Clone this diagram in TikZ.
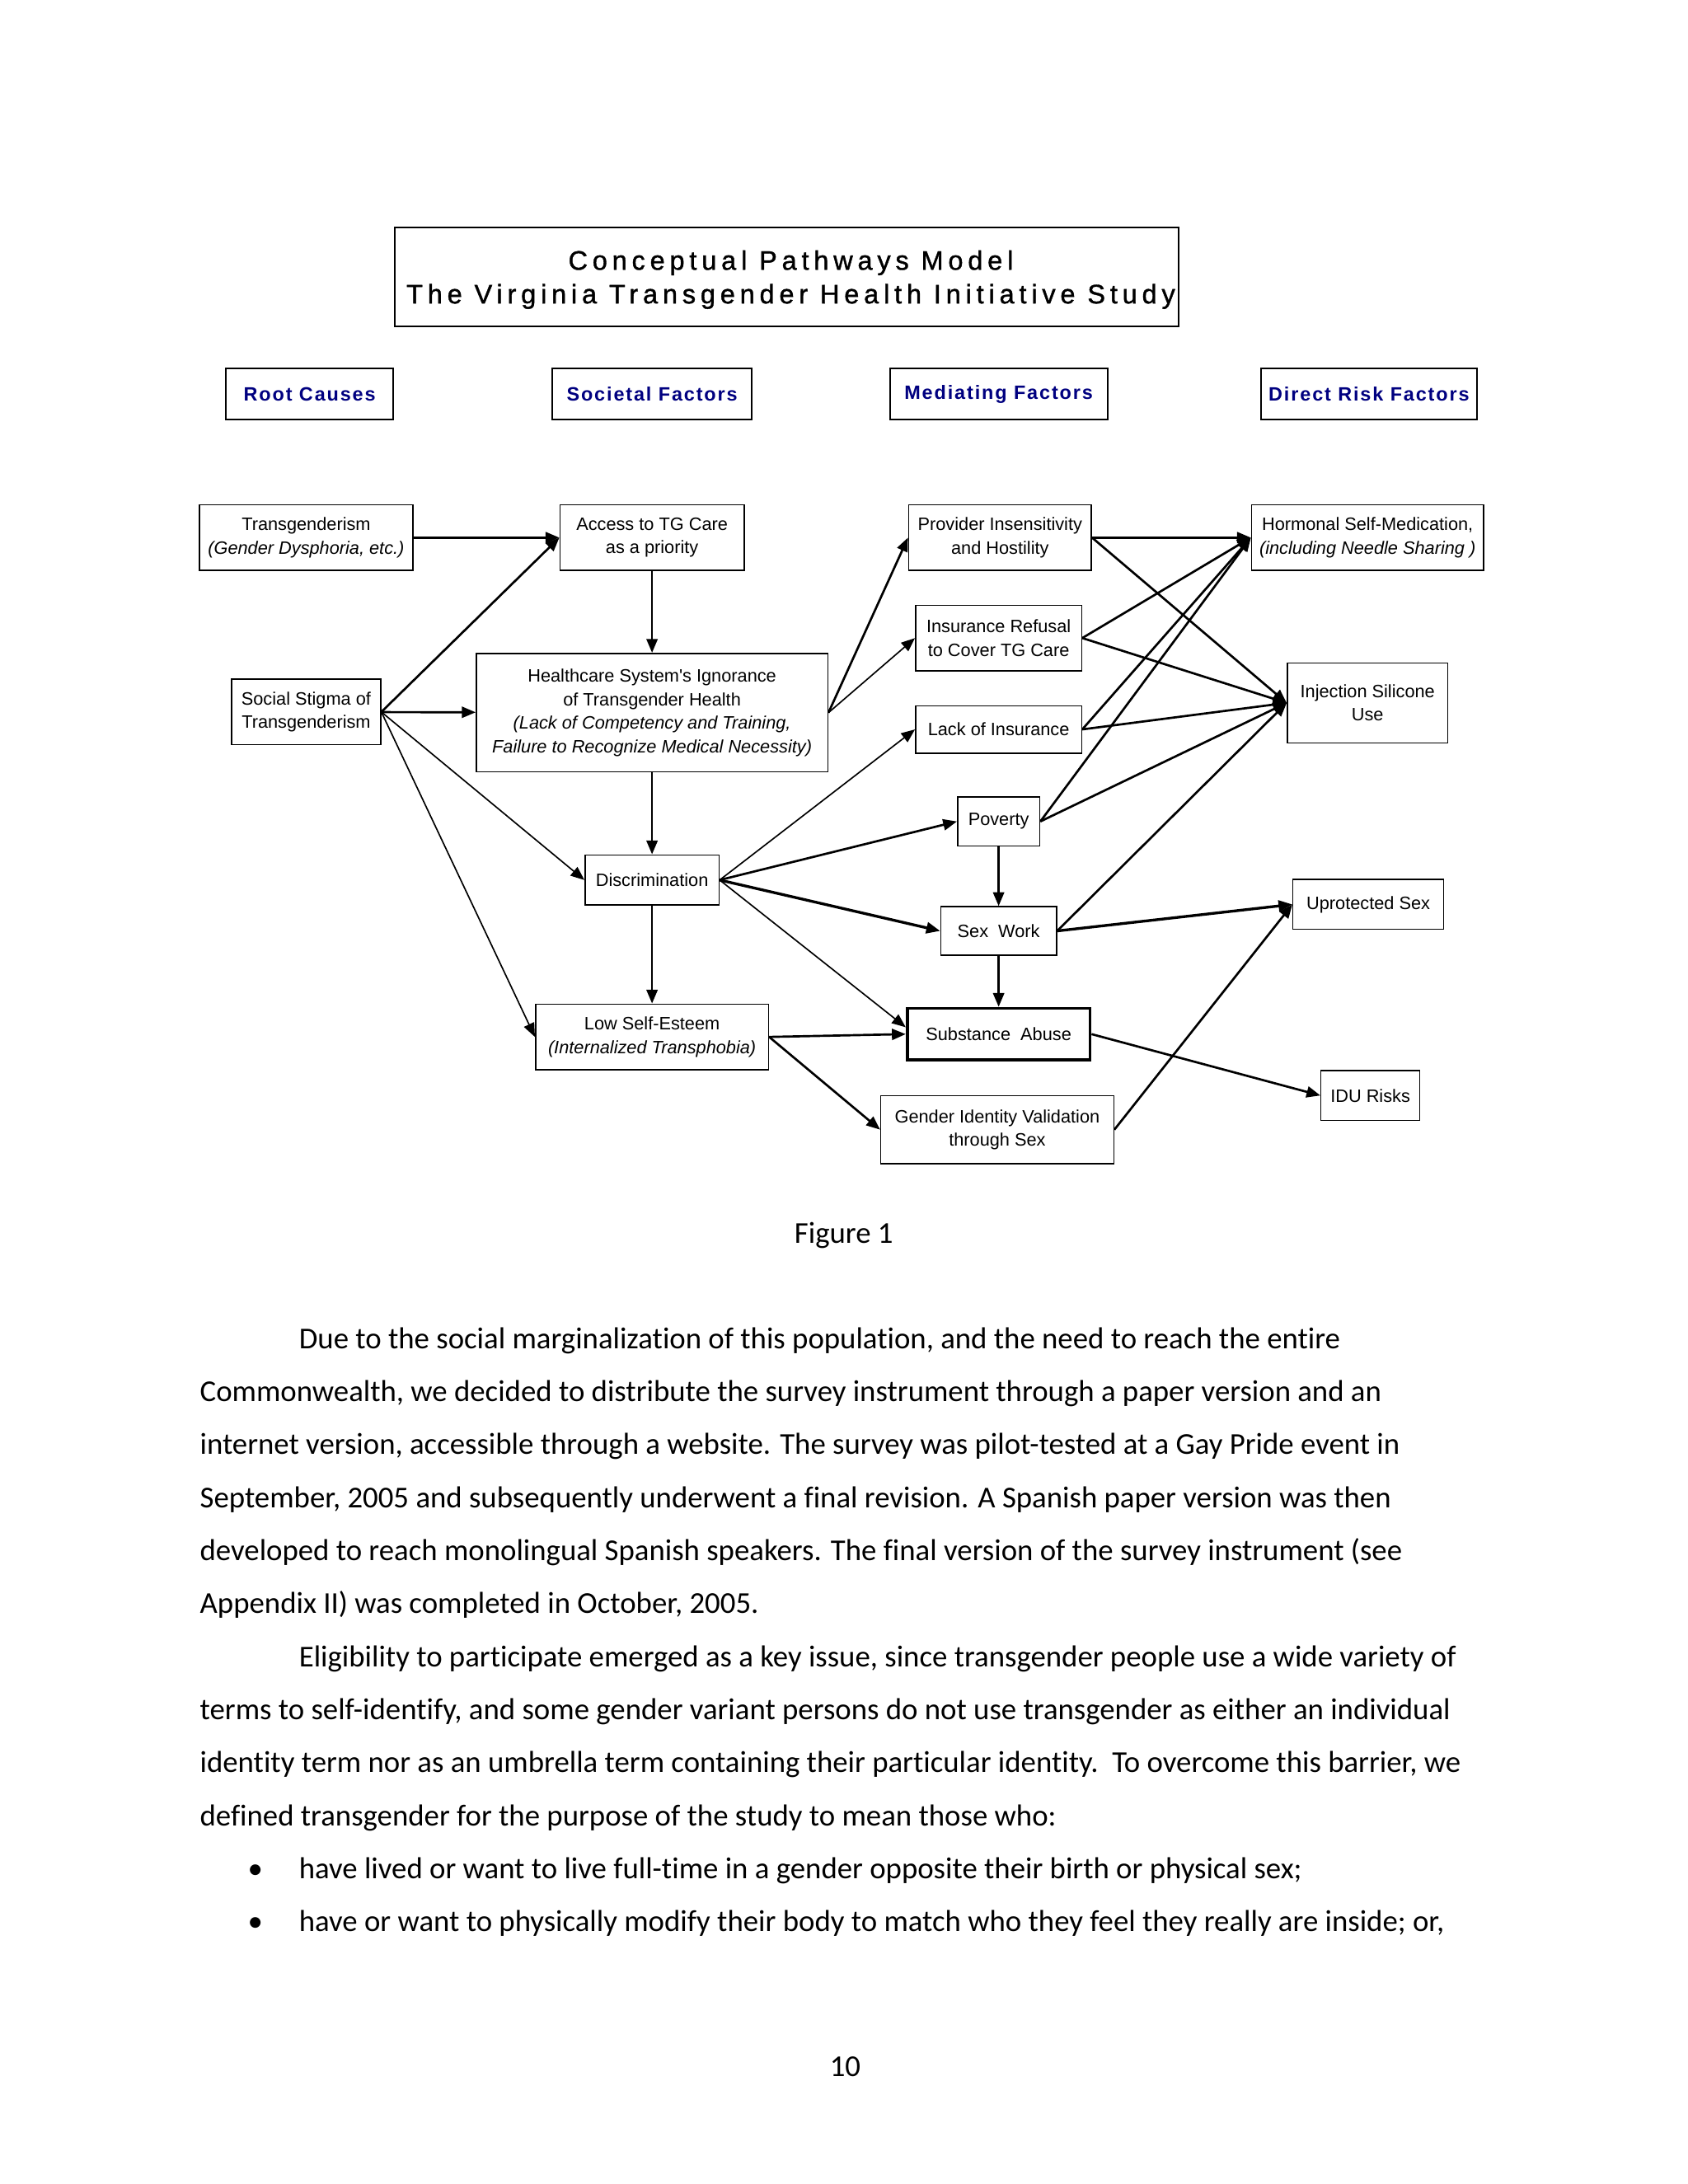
\documentclass[tikz,border=0pt]{standalone}
\usepackage{xcolor}
\usepackage{fontspec}
\setmainfont[Ligatures=NoCommon]{Carlito}
\newfontfamily\boxfont{Liberation Sans}
\newfontfamily\titlefont[LetterSpace=18, FakeBold=1.2]{Liberation Sans}
\newfontfamily\headfont[LetterSpace=8]{Liberation Sans}
\usepackage{tikz}
\usetikzlibrary{arrows.meta, positioning}
\definecolor{headNavy}{HTML}{000080}

\begin{document}
\begin{tikzpicture}[
    x=0.5058pt, y=-0.5058pt,
    box/.style={rectangle, draw, line width=0.45pt, inner sep=0pt, align=center, font=\boxfont\fontsize{6.5}{8.5}\selectfont},
    headbox/.style={rectangle, draw, line width=0.6pt, inner sep=0pt, minimum height=18.7pt, font=\headfont\bfseries\fontsize{7}{8.4}\selectfont, text=headNavy},
    arrow/.style={->, >={Triangle[length=5pt, width=4pt]}, line width=0.8pt},
    thinarrow/.style={arrow, line width=0.5pt},
    bodyline/.style={anchor=base west, inner sep=0pt, font=\fontsize{11}{13}\selectfont},
]
    \fill[white] (0,0) rectangle (1210,1566);
    \useasboundingbox (0,0) rectangle (1210,1566);

    % Title and column headers
    \draw[line width=0.6pt] (283,163) rectangle (845,234);
    \node[inner sep=0pt, align=center, font=\titlefont\fontsize{9.7}{12.2}\selectfont] (title) at (567,200.5)
          {Conceptual Pathways Model\\The Virginia Transgender Health Initiative Study};
    \node[headbox, minimum width=60.7pt] (root) at (222,282.5) {Root Causes};
    \node[headbox, minimum width=72.3pt] (societal) at (467.5,282.5) {Societal Factors};
    \node[headbox, minimum width=78.9pt] (mediating) at (716,282.5) {Mediating Factors};
    \node[headbox, minimum width=78.4pt] (direct) at (981.5,282.5) {Direct Risk Factors};

    % Root causes and societal factors
    \node[box, minimum width=77.4pt, minimum height=23.8pt] (trans) at (219.5,385.5) {Transgenderism\\\textit{(Gender Dysphoria, etc.)}};
    \node[box, minimum width=54.1pt, minimum height=23.8pt] (stigma) at (219.5,510.5) {Social Stigma of\\Transgenderism};
    \node[box, minimum width=66.8pt, minimum height=23.8pt] (access) at (467.5,385.5) {Access to TG Care\\as a priority};
    \node[box, minimum width=127.5pt, minimum height=43pt] (ignorance) at (467.5,511) {Healthcare System's Ignorance\\of Transgender Health\\\textit{(Lack of Competency and Training,}\\\textit{Failure to Recognize Medical Necessity)}};
    \node[box, minimum width=48.6pt, minimum height=18.2pt] (discrim) at (467.5,631) {Discrimination};
    \node[box, minimum width=84.5pt, minimum height=23.8pt] (esteem) at (467.5,743.5) {Low Self-Esteem\\\textit{(Internalized Transphobia)}};

    % Mediating factors
    \node[box, minimum width=66.3pt, minimum height=23.8pt] (provider) at (717,385.5) {Provider Insensitivity\\and Hostility};
    \node[box, minimum width=60.2pt, minimum height=23.8pt] (refusal) at (716,457.5) {Insurance Refusal\\to Cover TG Care};
    \node[box, minimum width=60.2pt, minimum height=17.2pt] (lackins) at (716,523) {Lack of Insurance};
    \node[box, minimum width=29.8pt, minimum height=17.9pt] (poverty) at (716,589) {Poverty};
    \node[box, minimum width=42pt, minimum height=17.6pt] (sexwork) at (716,667.5) {Sex\ \ Work};
    \node[box, line width=1.1pt, minimum width=66.3pt, minimum height=18.7pt] (substance) at (716,741.5) {Substance\ \ Abuse};
    \node[box, minimum width=84.5pt, minimum height=24.6pt] (validation) at (715,810) {Gender Identity Validation\\through Sex};

    % Direct risk factors
    \node[box, minimum width=84.2pt, minimum height=23.8pt] (hormonal) at (980.5,385.5) {Hormonal Self-Medication,\\\textit{(including Needle Sharing )}};
    \node[box, minimum width=58.2pt, minimum height=29pt] (silicone) at (980.5,504) {Injection Silicone\\Use};
    \node[box, minimum width=54.6pt, minimum height=18.1pt] (unprotected) at (981,648.5) {Uprotected Sex};
    \node[box, minimum width=35.8pt, minimum height=18.2pt] (idu) at (982.5,785.5) {IDU Risks};

    % Arrows from root causes
    \draw[arrow] (trans) -- (access);
    \draw[arrow] (stigma.east) -- (access.west);
    \draw[arrow] (stigma) -- (ignorance);
    \draw[thinarrow] (stigma.east) -- (discrim.west);
    \draw[thinarrow] (stigma.east) -- (esteem.west);
    \draw[arrow] (access) -- (ignorance);
    \draw[arrow] (ignorance) -- (discrim);
    \draw[arrow] (discrim) -- (esteem);

    % Arrows to mediating factors
    \draw[arrow] (ignorance.east) -- (provider.west);
    \draw[thinarrow] (ignorance.east) -- (refusal.west);
    \draw[thinarrow] (discrim.east) -- (lackins.west);
    \draw[arrow] (discrim.east) -- (poverty.west);
    \draw[arrow, line width=1pt] (discrim.east) -- (sexwork.west);
    \draw[thinarrow] (discrim.east) -- ([yshift=2.5pt]substance.west);
    \draw[arrow] (esteem.east) -- (substance.west);
    \draw[arrow] (esteem.east) -- (validation.west);
    \draw[arrow] (poverty) -- (sexwork);
    \draw[arrow] (sexwork) -- (substance);

    % Arrows to direct risk factors
    \draw[arrow] (provider.east) -- (hormonal.west);
    \draw[arrow] (provider.east) -- (silicone.west);
    \draw[arrow] (refusal.east) -- (hormonal.west);
    \draw[arrow] (refusal.east) -- (silicone.west);
    \draw[arrow] (lackins.east) -- (hormonal.west);
    \draw[arrow] (lackins.east) -- (silicone.west);
    \draw[arrow] (poverty.east) -- (hormonal.west);
    \draw[arrow] (poverty.east) -- (silicone.west);
    \draw[arrow] (sexwork.east) -- (silicone.west);
    \draw[arrow, line width=1pt] (sexwork.east) -- (unprotected.west);
    \draw[arrow] (validation.east) -- (unprotected.west);
    \draw[arrow] (substance.east) -- (idu.west);

    % Caption and page text
    \node[anchor=base, inner sep=0pt, font=\fontsize{11}{13}\selectfont] (caption) at (605,891.5) {Figure 1};
    \node[bodyline] (line1) at (214,967) {Due to the social marginalization of this population, and the need to reach the entire};
    \node[bodyline] (line2) at (143,1005) {Commonwealth, we decided to distribute the survey instrument through a paper version and an};
    \node[bodyline] (line3) at (143,1043) {internet version, accessible through a website. The survey was pilot-tested at a Gay Pride event in};
    \node[bodyline] (line4) at (143,1081) {September, 2005 and subsequently underwent a final revision. A Spanish paper version was then};
    \node[bodyline] (line5) at (143,1119) {developed to reach monolingual Spanish speakers. The final version of the survey instrument (see};
    \node[bodyline] (line6) at (143,1157) {Appendix II) was completed in October, 2005.};
    \node[bodyline] (line7) at (214,1195) {Eligibility to participate emerged as a key issue, since transgender people use a wide variety of};
    \node[bodyline] (line8) at (143,1233) {terms to self-identify, and some gender variant persons do not use transgender as either an individual};
    \node[bodyline] (line9) at (143,1271) {identity term nor as an umbrella term containing their particular identity.\ \ To overcome this barrier, we};
    \node[bodyline] (line10) at (143,1309) {defined transgender for the purpose of the study to mean those who:};
    \node[bodyline, anchor=base] (bullet1) at (183,1347) {•};
    \node[bodyline] (line11) at (214,1347) {have lived or want to live full-time in a gender opposite their birth or physical sex;};
    \node[bodyline, anchor=base] (bullet2) at (183,1385) {•};
    \node[bodyline] (line12) at (214,1385) {have or want to physically modify their body to match who they feel they really are inside; or,};
    \node[anchor=base, inner sep=0pt, font=\fontsize{11}{13}\selectfont] (pagenum) at (606,1489) {10};
\end{tikzpicture}
\end{document}
